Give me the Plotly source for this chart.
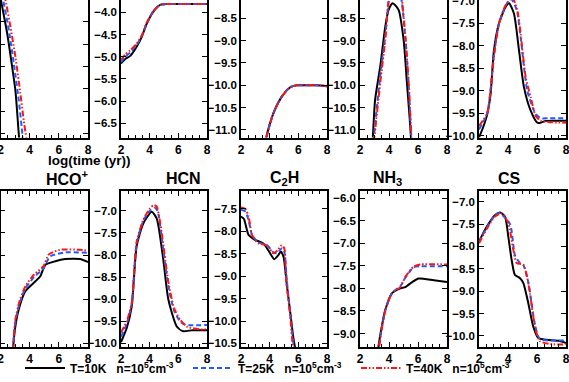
import plotly.graph_objects as go
from plotly.subplots import make_subplots

# log10 abundance vs log10 time (yr); T=10K / 25K / 40K, n=1e5 cm^-3
# ---- top row (panel titles cropped off in the source) ----
p1_t10_x = [2.0, 2.07, 2.46, 2.8, 3.02, 3.25, 3.32]
p1_t10_y = [-3.95, -4.08, -4.76, -5.51, -6.03, -7.0, -7.3]
p1_t25_x = [2.0, 2.18, 2.57, 2.91, 3.25, 3.52, 3.56]
p1_t25_y = [-3.7, -4.01, -4.68, -5.43, -6.25, -7.08, -7.3]
p1_t40_x = [2.0, 2.34, 2.68, 3.02, 3.36, 3.59, 3.77, 3.82]
p1_t40_y = [-3.5, -4.01, -4.61, -5.28, -6.10, -6.70, -7.11, -7.3]

p2_t10_x = [2.0, 2.3, 2.65, 3.1, 3.45, 3.8, 4.26, 4.73, 5.2, 6.0, 7.0, 8.0]
p2_t10_y = [-5.15, -5.05, -4.98, -4.77, -4.55, -4.25, -3.98, -3.83, -3.81, -3.81, -3.81, -3.81]
p2_t25_x = [2.0, 2.3, 2.65, 3.1, 3.45, 3.8, 4.26, 4.73, 5.2, 6.5, 8.0]
p2_t25_y = [-5.12, -5.0, -4.9, -4.73, -4.53, -4.24, -3.97, -3.83, -3.81, -3.81, -3.81]
p2_t40_x = [2.0, 2.3, 2.65, 3.1, 3.45, 3.8, 4.26, 4.73, 5.2, 6.5, 8.0]
p2_t40_y = [-5.07, -4.95, -4.85, -4.7, -4.52, -4.23, -3.97, -3.83, -3.81, -3.81, -3.81]

p3_t10_x = [3.6, 3.75, 4.26, 4.84, 5.42, 5.89, 6.35, 7.28, 8.0]
p3_t10_y = [-11.5, -11.19, -10.63, -10.26, -10.05, -10.0, -10.0, -10.0, -10.02]
p3_t25_x = [3.6, 3.75, 4.26, 4.84, 5.42, 5.89, 6.35, 7.28, 8.0]
p3_t25_y = [-11.5, -11.18, -10.62, -10.25, -10.04, -10.0, -10.0, -10.0, -10.02]
p3_t40_x = [3.6, 3.76, 4.27, 4.85, 5.42, 5.89, 6.35, 7.28, 8.0]
p3_t40_y = [-11.5, -11.19, -10.62, -10.25, -10.05, -10.0, -10.0, -10.0, -10.02]

p4_t10_x = [2.78, 2.88, 3.04, 3.39, 3.74, 3.97, 4.25, 4.66, 5.01, 5.24, 5.4, 5.52, 5.56]
p4_t10_y = [-11.6, -11.19, -10.33, -9.59, -8.69, -8.31, -8.16, -8.31, -8.99, -9.96, -10.63, -11.19, -11.5]
p4_t25_x = [2.86, 2.95, 3.39, 3.74, 3.97, 4.2, 4.45, 4.7, 4.89, 5.13, 5.36, 5.53, 5.58]
p4_t25_y = [-11.6, -11.19, -9.8, -8.9, -8.15, -7.8, -7.7, -7.85, -8.15, -8.95, -10.0, -11.19, -11.5]
p4_t40_x = [2.9, 2.99, 3.39, 3.74, 3.97, 4.2, 4.45, 4.7, 4.89, 5.13, 5.36, 5.55, 5.6]
p4_t40_y = [-11.6, -11.19, -9.96, -8.99, -8.09, -7.7, -7.6, -7.75, -8.09, -8.91, -9.96, -11.19, -11.5]

p5_t10_x = [2.0, 2.3, 2.57, 2.8, 3.03, 3.38, 3.84, 4.07, 4.41, 4.76, 5.1, 5.57, 6.02, 6.26, 6.6, 8.0]
p5_t10_y = [-10.04, -9.8, -9.52, -9.07, -8.10, -7.50, -7.13, -7.05, -7.28, -8.10, -8.92, -9.45, -9.71, -9.71, -9.67, -9.67]
p5_t25_x = [2.0, 2.57, 3.03, 3.38, 3.84, 4.2, 4.6, 4.87, 5.33, 5.91, 6.26, 6.83, 8.0]
p5_t25_y = [-9.86, -9.5, -8.2, -7.5, -7.1, -6.95, -7.2, -7.8, -9.0, -9.52, -9.61, -9.61, -9.61]
p5_t40_x = [2.0, 2.57, 3.03, 3.38, 3.84, 4.3, 4.64, 4.87, 5.22, 5.57, 5.91, 6.26, 7.0, 8.0]
p5_t40_y = [-9.78, -9.49, -8.25, -7.5, -7.09, -6.93, -7.2, -7.73, -8.7, -9.15, -9.56, -9.67, -9.7, -9.71]

# ---- bottom row ----
hco_t10_x = [2.8, 2.87, 3.02, 3.25, 3.7, 4.27, 4.73, 5.07, 5.75, 6.43, 7.45, 8.0]
hco_t10_y = [-10.5, -10.08, -9.61, -9.23, -8.82, -8.63, -8.48, -8.22, -8.14, -8.09, -8.09, -8.16]
hco_t25_x = [2.8, 2.87, 3.0, 3.3, 3.7, 4.3, 4.95, 5.41, 6.43, 8.0]
hco_t25_y = [-10.5, -10.08, -9.55, -9.1, -8.76, -8.5, -8.30, -8.03, -7.94, -7.95]
hco_t40_x = [2.8, 2.87, 3.0, 3.3, 3.7, 4.3, 4.95, 5.3, 6.09, 7.45, 8.0]
hco_t40_y = [-10.5, -10.08, -9.5, -9.05, -8.71, -8.44, -8.25, -7.99, -7.88, -7.88, -7.90]

hcn_t10_x = [2.0, 2.4, 2.75, 3.09, 3.56, 4.14, 4.49, 4.95, 5.3, 5.88, 6.3, 7.0, 8.0]
hcn_t10_y = [-9.97, -9.65, -9.16, -7.80, -7.28, -7.02, -7.17, -8.10, -9.0, -9.61, -9.72, -9.70, -9.70]
hcn_t25_x = [2.0, 2.4, 2.75, 3.09, 3.56, 4.0, 4.35, 4.55, 4.84, 5.3, 5.7, 6.12, 6.5, 8.0]
hcn_t25_y = [-9.85, -9.55, -9.1, -7.75, -7.22, -7.0, -6.93, -7.0, -7.6, -8.7, -9.25, -9.5, -9.58, -9.58]
hcn_t40_x = [2.0, 2.4, 2.75, 3.09, 3.56, 4.0, 4.28, 4.49, 4.84, 5.3, 5.7, 6.12, 6.6, 7.5, 8.0]
hcn_t40_y = [-9.75, -9.5, -9.08, -7.7, -7.2, -6.95, -6.87, -6.9, -7.5, -8.6, -9.2, -9.46, -9.62, -9.68, -9.68]

c2h_t10_x = [2.0, 2.2, 2.53, 2.98, 3.56, 3.9, 4.32, 4.61, 4.78, 4.97, 5.2, 5.43, 5.66, 5.78, 5.85]
c2h_t10_y = [-7.67, -7.72, -8.08, -8.19, -8.27, -8.42, -8.62, -8.53, -8.45, -8.57, -9.2, -9.79, -10.39, -10.61, -10.8]
c2h_t25_x = [2.0, 2.3, 2.53, 2.77, 3.22, 3.8, 4.26, 4.5, 4.84, 5.0, 5.2, 5.55, 5.7, 5.78]
c2h_t25_y = [-7.52, -7.56, -7.75, -8.08, -8.25, -8.3, -8.47, -8.49, -8.38, -8.42, -9.1, -10.2, -10.61, -10.8]
c2h_t40_x = [2.0, 2.3, 2.53, 2.77, 3.22, 3.8, 4.26, 4.56, 4.84, 5.02, 5.14, 5.43, 5.62, 5.7]
c2h_t40_y = [-7.47, -7.5, -7.67, -8.08, -8.27, -8.31, -8.49, -8.42, -8.31, -8.38, -9.05, -9.87, -10.61, -10.8]

nh3_t10_x = [3.18, 3.27, 3.5, 3.74, 4.2, 4.78, 5.13, 5.59, 6.05, 7.09, 8.0]
nh3_t10_y = [-9.6, -9.30, -8.85, -8.48, -8.11, -8.0, -7.97, -7.86, -7.78, -7.82, -7.86]
nh3_t25_x = [3.2, 3.3, 3.5, 3.74, 4.2, 4.78, 5.13, 5.7, 6.17, 8.0]
nh3_t25_y = [-9.6, -9.30, -8.88, -8.49, -8.1, -7.95, -7.76, -7.53, -7.51, -7.51]
nh3_t40_x = [3.22, 3.32, 3.5, 3.74, 4.2, 4.78, 5.13, 5.7, 6.17, 8.0]
nh3_t40_y = [-9.6, -9.30, -8.9, -8.5, -8.11, -7.97, -7.74, -7.52, -7.47, -7.47]

cs_t10_x = [2.0, 2.53, 3.1, 3.45, 3.79, 4.02, 4.25, 4.48, 4.83, 5.06, 5.4, 5.74, 6.09, 6.67, 7.5, 8.0]
cs_t10_y = [-7.89, -7.56, -7.30, -7.24, -7.33, -7.78, -8.30, -8.64, -8.71, -8.82, -9.27, -9.79, -10.05, -10.09, -10.11, -10.16]
cs_t25_x = [2.0, 2.53, 3.1, 3.4, 4.14, 4.48, 4.83, 5.06, 5.4, 5.86, 6.2, 8.0]
cs_t25_y = [-7.90, -7.58, -7.3, -7.25, -7.5, -8.2, -8.37, -8.42, -8.8, -9.75, -10.07, -10.10]
cs_t40_x = [2.0, 2.53, 3.1, 3.57, 4.02, 4.37, 4.6, 5.06, 5.4, 5.86, 6.2, 7.12, 8.0]
cs_t40_y = [-7.93, -7.61, -7.33, -7.26, -7.48, -8.08, -8.37, -8.41, -8.82, -9.79, -10.12, -10.19, -10.19]

titles = ["", "", "", "", "", "HCO<sup>+</sup>", "HCN", "C<sub>2</sub>H", "NH<sub>3</sub>", "CS"]
legend_names = ["T=10K\u00a0\u00a0\u00a0n=10<sup>5</sup>cm<sup>-3</sup>",
                "T=25K\u00a0\u00a0\u00a0n=10<sup>5</sup>cm<sup>-3</sup>",
                "T=40K\u00a0\u00a0\u00a0n=10<sup>5</sup>cm<sup>-3</sup>"]

panels = [
    (p1_t10_x, p1_t10_y, p1_t25_x, p1_t25_y, p1_t40_x, p1_t40_y),
    (p2_t10_x, p2_t10_y, p2_t25_x, p2_t25_y, p2_t40_x, p2_t40_y),
    (p3_t10_x, p3_t10_y, p3_t25_x, p3_t25_y, p3_t40_x, p3_t40_y),
    (p4_t10_x, p4_t10_y, p4_t25_x, p4_t25_y, p4_t40_x, p4_t40_y),
    (p5_t10_x, p5_t10_y, p5_t25_x, p5_t25_y, p5_t40_x, p5_t40_y),
    (hco_t10_x, hco_t10_y, hco_t25_x, hco_t25_y, hco_t40_x, hco_t40_y),
    (hcn_t10_x, hcn_t10_y, hcn_t25_x, hcn_t25_y, hcn_t40_x, hcn_t40_y),
    (c2h_t10_x, c2h_t10_y, c2h_t25_x, c2h_t25_y, c2h_t40_x, c2h_t40_y),
    (nh3_t10_x, nh3_t10_y, nh3_t25_x, nh3_t25_y, nh3_t40_x, nh3_t40_y),
    (cs_t10_x, cs_t10_y, cs_t25_x, cs_t25_y, cs_t40_x, cs_t40_y),
]

# visible y ranges (the source image is cropped at the top and left)
yranges = [[-7.09, -4.01], [-6.82, -3.72], [-11.17, -8.09], [-11.17, -8.09], [-10.04, -6.98],
           [-10.08, -6.55], [-10.08, -6.55], [-10.58, -7.10], [-9.30, -5.84], [-10.25, -6.76]]

W, H = 569, 382
col_px = [(0.5, 88), (121, 207), (241, 327), (360, 447), (479, 566)]
row_px = [(0, 137.5), (191, 347)]

styles = [
    dict(color="black", width=2, dash="solid"),
    dict(color="#1f5cff", width=2, dash="5px,3px"),
    dict(color="#ff1414", width=2, dash="6px,2px,1.5px,2px,1.5px,2px"),
]

FONT = "Liberation Sans, Arial, sans-serif"

fig = make_subplots(rows=2, cols=5)

for i, p in enumerate(panels):
    r, c = i // 5 + 1, i % 5 + 1
    for k in range(3):
        fig.add_trace(
            go.Scatter(
                x=p[2 * k], y=p[2 * k + 1], mode="lines",
                name=legend_names[k], showlegend=(i == 0),
                line=dict(shape="spline", smoothing=0.6, **styles[k]),
            ),
            row=r, col=c,
        )
    x0, x1 = col_px[c - 1]
    y0, y1 = row_px[r - 1]
    fig.update_xaxes(
        domain=[x0 / W, x1 / W], range=[2, 8], dtick=2, tick0=2, automargin=False,
        showline=True, linecolor="black", linewidth=1.5,
        mirror="ticks" if r == 2 else False,
        ticks="inside", ticklen=5, tickwidth=1, tickcolor="black",
        minor=dict(dtick=0.5, ticklen=3, ticks="inside", tickcolor="black"),
        showgrid=False, zeroline=False, ticklabeloverflow="allow",
        tickfont=dict(size=12, color="black", family=FONT, weight="bold"),
        row=r, col=c,
    )
    fig.update_yaxes(
        domain=[1 - y1 / H, 1 - y0 / H], range=yranges[i], dtick=0.5, automargin=False,
        tickformat=".1f",
        showline=True, linecolor="black", linewidth=1.5, mirror="ticks",
        ticks="inside", ticklen=5, tickwidth=1, tickcolor="black",
        showgrid=False, zeroline=False, ticklabeloverflow="allow",
        tickfont=dict(size=11.5, color="black", family=FONT, weight="bold"),
        row=r, col=c,
    )
    if titles[i]:
        fig.add_annotation(
            text=titles[i], x=(x0 + x1) / 2 / W, y=1 - 178 / H,
            xref="paper", yref="paper", showarrow=False,
            font=dict(size=16, color="black", family=FONT, weight="bold"),
        )

fig.add_annotation(
    text="log(time (yr))", x=46 / W, y=1 - 160 / H, xref="paper", yref="paper",
    showarrow=False, font=dict(size=13.5, color="black", family=FONT, weight="bold"),
)

fig.update_layout(
    width=W, height=H,
    margin=dict(l=0, r=0, t=0, b=0, autoexpand=False),
    paper_bgcolor="white", plot_bgcolor="white",
    font=dict(family=FONT, color="black", weight="bold"),
    legend=dict(
        orientation="h", x=20 / W, y=(H - 368) / H, xanchor="left", yanchor="middle",
        font=dict(size=12, color="black", family=FONT, weight="bold"),
        bgcolor="rgba(0,0,0,0)", itemwidth=40, tracegroupgap=0,
        entrywidth=113, entrywidthmode="pixels",
    ),
)

# page body has a default 8px margin; remove it so the figure sits at the corner
fig.write_html("out.html", config={"displayModeBar": False},
               post_script="document.body.style.margin='0';")
